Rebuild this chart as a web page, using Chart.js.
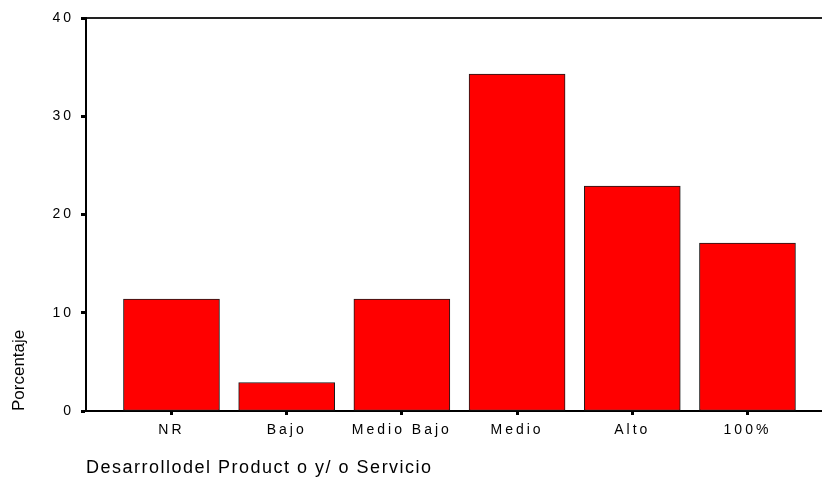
<!DOCTYPE html>
<html><head><meta charset="utf-8">
<script src="https://cdn.jsdelivr.net/npm/chart.js@4/dist/chart.umd.min.js"></script>
<style>html,body{margin:0;padding:0;background:#fff}#wrap{width:822px;height:479px}</style>
</head><body><div id="wrap"><canvas id="c" width="822" height="479"></canvas></div>
<script>
const categories = ['NR', 'Bajo', 'Medio Bajo', 'Medio', 'Alto', '100%'];
const porcentaje = [11.4, 2.9, 11.4, 34.3, 22.9, 17.1];
const yTicks = [0, 10, 20, 30, 40];
const xTitle = 'Desarrollodel Product o y/ o Servicio';
const yTitle = 'Porcentaje';

const FONT = '"Liberation Sans", Arial, sans-serif';

const spacing = {
  id: 'spacing',
  beforeDraw(chart) {
    chart.ctx.letterSpacing = '3px';
    const wrap = (s, ls) => {
      if (!s || s._wrappedTitle) return;
      const orig = s.drawTitle;
      s.drawTitle = function () {
        const c = this.ctx;
        const prev = c.letterSpacing;
        c.letterSpacing = ls;
        orig.apply(this, arguments);
        c.letterSpacing = prev;
      };
      s._wrappedTitle = true;
    };
    wrap(chart.scales.x, '1.5px');
    wrap(chart.scales.y, '0px');
  }
};

new Chart(document.getElementById('c'), {
  type: 'bar',
  data: {
    datasets: [{
      data: categories.map((c, i) => ({ x: i, y: porcentaje[i] })),
      backgroundColor: '#ff0000',
      borderColor: '#1a1a1a',
      borderWidth: 1,
      borderSkipped: false,
      barThickness: 96
    }]
  },
  options: {
    responsive: false,
    animation: false,
    layout: { padding: { top: 18, left: 0, right: 0, bottom: 0 } },
    plugins: { legend: { display: false }, tooltip: { enabled: false } },
    scales: {
      x: {
        type: 'linear',
        position: 'bottom',
        min: -0.742,
        max: 5.647,
        offset: false,
        afterBuildTicks: (s) => { s.ticks = categories.map((c, i) => ({ value: i })); },
        afterFit: (s) => { s.height = 68; },
        grid: { display: true, offset: false, drawOnChartArea: false, drawTicks: true, tickLength: 4, tickWidth: 3, tickColor: '#000' },
        border: { display: true, color: '#000', width: 2 },
        ticks: {
          autoSkip: false, maxRotation: 0, padding: 7, color: '#000',
          font: { family: FONT, size: 14 },
          callback: (v) => categories[v] ?? ''
        },
        title: {
          display: true, text: xTitle, align: 'start', color: '#000',
          font: { family: FONT, size: 18 }, padding: { top: 0, bottom: 0 }
        }
      },
      x2: {
        type: 'linear',
        position: 'top',
        min: -0.742,
        max: 5.647,
        afterFit: (s) => { s.height = 0; },
        grid: { display: false },
        border: { display: true, color: '#222', width: 2 },
        ticks: { display: false }
      },
      y: {
        type: 'linear',
        min: 0,
        max: 40,
        afterBuildTicks: (s) => { s.ticks = yTicks.map(v => ({ value: v })); },
        afterFit: (s) => { s.width = 86; },
        grid: { display: true, drawOnChartArea: false, drawTicks: true, tickLength: 5, tickWidth: 3, tickColor: '#000' },
        border: { display: true, color: '#000', width: 2 },
        ticks: { padding: 7, color: '#000', font: { family: FONT, size: 14 } },
        title: {
          display: true, text: yTitle, align: 'start', color: '#000',
          font: { family: FONT, size: 17 }, padding: { top: 9, bottom: 0 }
        }
      }
    }
  },
  plugins: [spacing]
});
</script>
</body></html>
